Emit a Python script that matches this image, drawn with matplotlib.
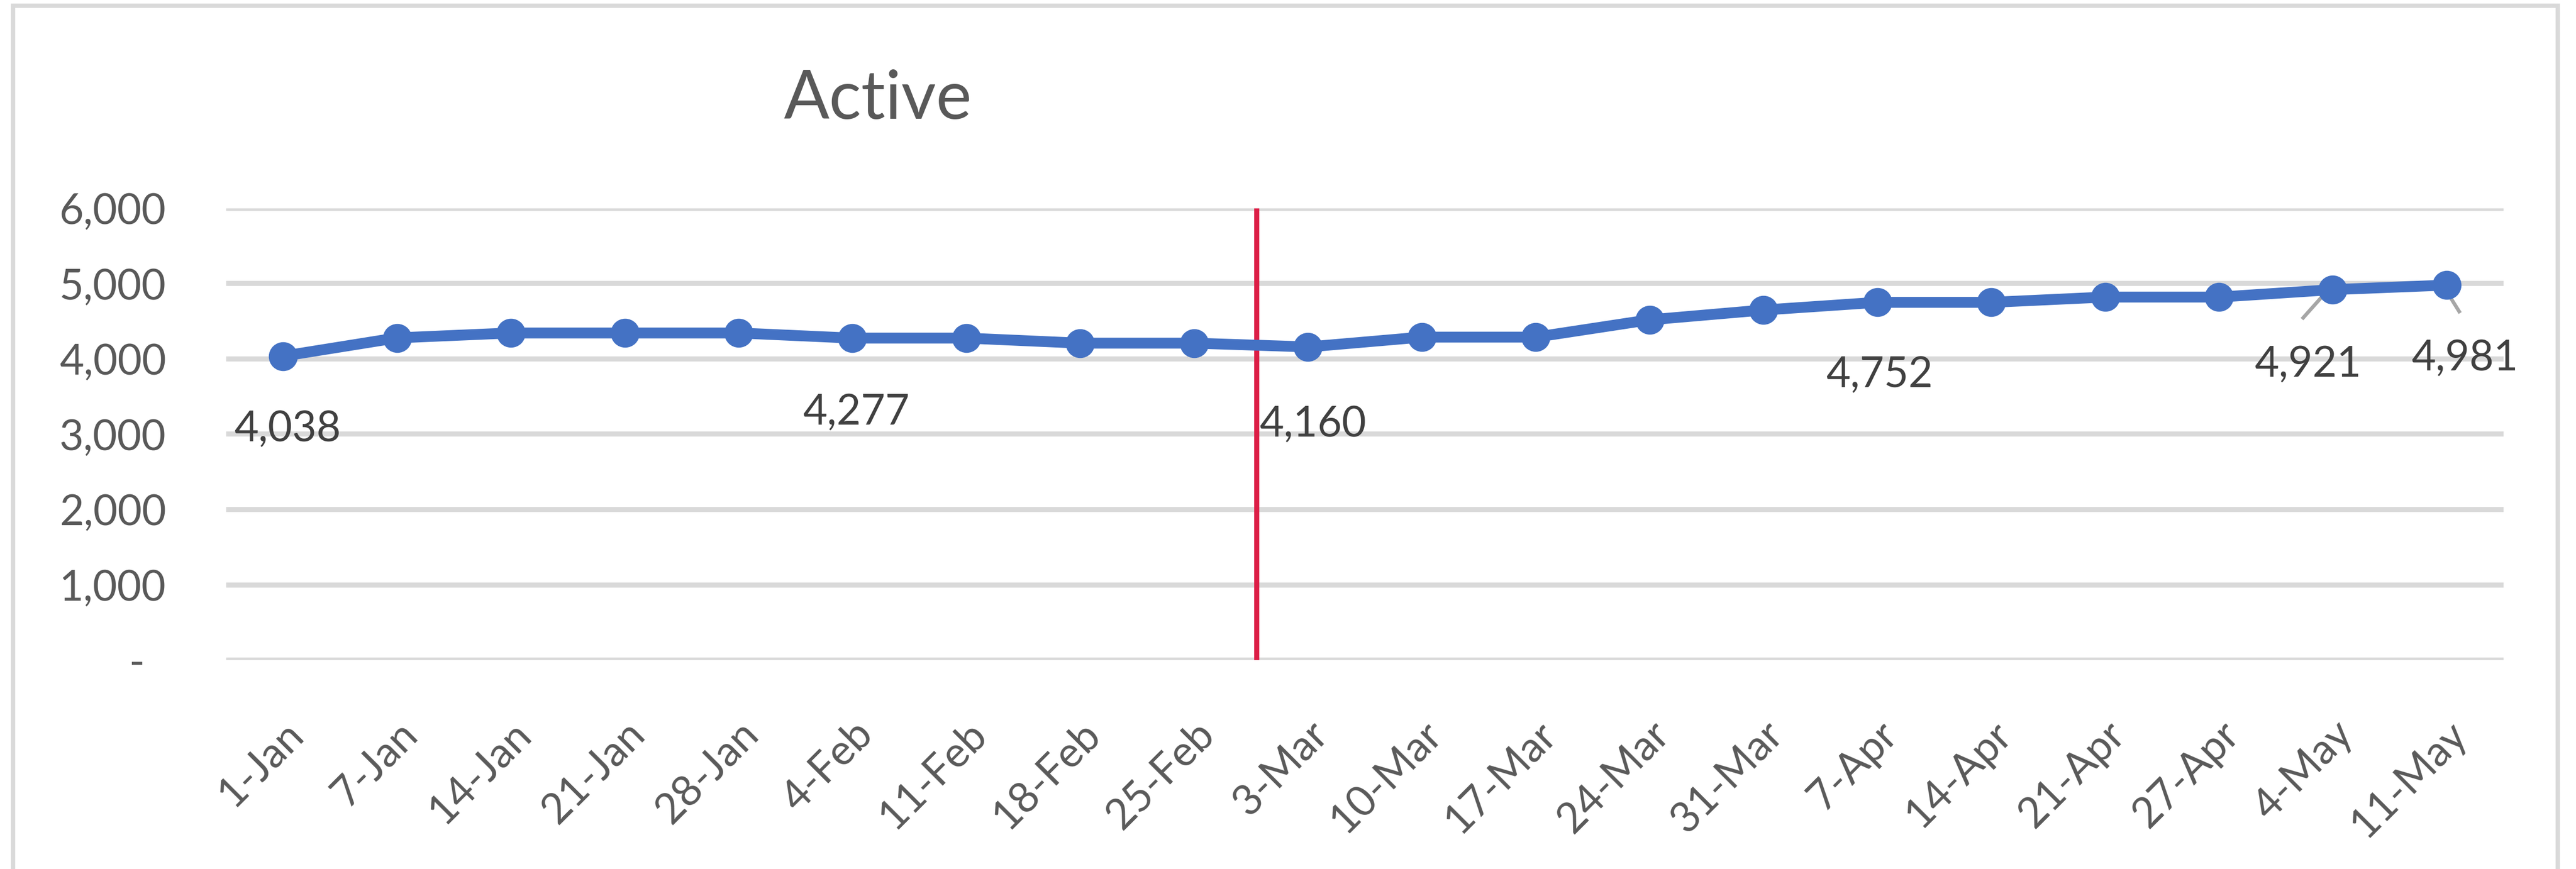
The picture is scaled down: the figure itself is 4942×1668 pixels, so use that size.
import matplotlib
matplotlib.use("Agg")
import matplotlib.pyplot as plt
from matplotlib.patches import Rectangle
from matplotlib.ticker import FuncFormatter

# data
dates = ["1-Jan", "7-Jan", "14-Jan", "21-Jan", "28-Jan", "4-Feb", "11-Feb", "18-Feb",
         "25-Feb", "3-Mar", "10-Mar", "17-Mar", "24-Mar", "31-Mar", "7-Apr", "14-Apr",
         "21-Apr", "27-Apr", "4-May", "11-May"]
active = [4038, 4280, 4345, 4345, 4345, 4277, 4277, 4210, 4210, 4160, 4290, 4290,
          4520, 4650, 4752, 4752, 4822, 4822, 4921, 4981]
labelled_idx = [0, 5, 9, 14, 18, 19]
label_pos = [(0.04, 3065), (5.03, 3286), (9.04, 3127), (14.02, 3785), (17.78, 3923), (19.16, 4006)]
leaders = {18: ((17.96, 4920), (17.74, 4547)), 19: ((18.97, 4969), (19.11, 4630))}
red_line_x = 8.55
y_ticks = [0, 1000, 2000, 3000, 4000, 5000, 6000]

plt.rcParams["font.family"] = ["Lato", "DejaVu Sans"]

fig = plt.figure(figsize=(49.42, 16.68), dpi=100)
ax = fig.add_axes([0.0878, 0.2404, 0.9719 - 0.0878, 0.7602 - 0.2404])

x = list(range(len(dates)))
ax.plot(x, active, color="#4472C4", lw=15, marker="o", ms=39,
        solid_joinstyle="round", zorder=3)

ax.axvline(red_line_x, ymin=0, ymax=1, color="#DC1E46", lw=7, zorder=2)

for i, (tx, ty) in zip(labelled_idx, label_pos):
    ax.text(tx, ty, f"{active[i]:,}", ha="center", va="center",
            fontsize=58, color="#404040", zorder=4)
for i, (p0, p1) in leaders.items():
    ax.plot([p0[0], p1[0]], [p0[1], p1[1]], color="#A6A6A6", lw=5, zorder=2)

ax.set_xlim(-0.5, len(dates) - 0.5)
ax.set_ylim(0, 6000)
ax.set_yticks(y_ticks)
ax.yaxis.set_major_formatter(FuncFormatter(lambda v, p: "-  " if v == 0 else f"{int(v):,}"))
ax.set_xticks(x)
ax.set_xticklabels(dates, rotation=45, ha="right", va="top", rotation_mode="anchor")

ax.grid(axis="y", color="#D9D9D9", lw=7)
ax.set_axisbelow(True)
for s in ax.spines.values():
    s.set_visible(False)
ax.tick_params(axis="both", length=0, labelsize=58, colors="#595959")
ax.tick_params(axis="y", pad=83)
ax.tick_params(axis="x", pad=75)

fig.text(1684 / 4942, 1 - 228 / 1668, "Active", ha="center", va="baseline",
         fontsize=93, color="#595959")

fig.patches.append(Rectangle((25 / 4942, -0.05), (4907 - 25) / 4942, 1.05 - 11 / 1668,
                             transform=fig.transFigure, fill=False,
                             edgecolor="#D9D9D9", lw=6))

fig.savefig("out.png", dpi=100)
